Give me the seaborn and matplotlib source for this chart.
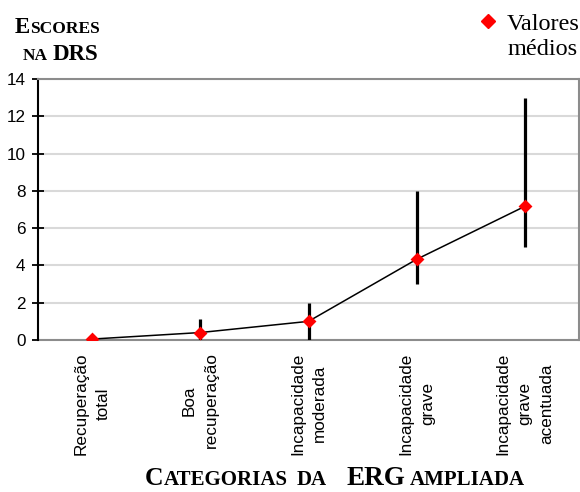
import matplotlib
matplotlib.use("Agg")
import matplotlib.pyplot as plt
import seaborn as sns
import numpy as np
import pandas as pd
from matplotlib.lines import Line2D

# ---- data ----
categories = ["Recuperação\ntotal", "Boa\nrecuperação", "Incapacidade\nmoderada",
              "Incapacidade\ngrave", "Incapacidade\ngrave\nacentuada"]
means = [0.05, 0.4, 1.0, 4.33, 7.17]
lows = [0.0, 0.0, 0.0, 3.0, 5.0]
highs = [0.0, 1.1, 2.0, 8.0, 13.0]
yticks = [0, 2, 4, 6, 8, 10, 12, 14]
legend_lines = ["Valores", "médios"]

sns.set_theme(style="white")
plt.rcParams["font.family"] = ["Liberation Sans", "DejaVu Sans"]

W, H = 580, 492
fig = plt.figure(figsize=(W / 100, H / 100), dpi=100)
ax = fig.add_axes([38 / W, 1 - 340 / H, (579 - 38) / W, (340 - 79) / H])

df = pd.DataFrame({"pos": np.arange(len(categories)), "mean": means,
                   "lo": lows, "hi": highs})

ax.vlines(df["pos"], df["lo"], df["hi"], color="black", lw=2.3, zorder=3)
sns.lineplot(data=df, x="pos", y="mean", color="black", lw=1.1, ax=ax, zorder=4)
sns.scatterplot(data=df, x="pos", y="mean", marker="D", color="#ff0000", s=50,
                edgecolor="#ff0000", linewidth=0, ax=ax, zorder=5)

ax.set_xlim(-0.5, len(categories) - 0.5)
ax.set_ylim(0, 14)
ax.set_yticks(yticks)
ax.set_xticks(df["pos"])
ax.set_xticklabels(categories, rotation=90, ha="center", va="top",
                   multialignment="center", fontsize=12.3, color="black")
for lab in ax.get_xticklabels():
    lab.set_linespacing(1.6)
ax.set_yticklabels([str(v) for v in yticks], fontsize=12.3, color="black")
ax.set_xlabel("")
ax.set_ylabel("")

ax.yaxis.grid(True, color="#d9d9d9", lw=1.5)
ax.xaxis.grid(False)
ax.set_axisbelow(True)
ax.tick_params(axis="y", direction="inout", length=8, width=1.3, color="black",
               pad=5, left=True)
ax.tick_params(axis="x", length=0, pad=9)
for s in ["top", "right", "bottom"]:
    ax.spines[s].set_color("#8c8c8c")
    ax.spines[s].set_linewidth(1.5)
ax.spines["left"].set_color("black")
ax.spines["left"].set_linewidth(1.5)
ax.spines["bottom"].set_zorder(2)

# ---- small-caps style texts ----
fig.canvas.draw()
renderer = fig.canvas.get_renderer()
serif = ["Liberation Serif", "DejaVu Serif"]


def runs(x_px, base_px, pieces):
    x = x_px
    for txt, size, gap in pieces:
        x += gap
        t = fig.text(x / W, 1 - base_px / H, txt, fontsize=size, fontweight="bold",
                     family=serif, va="baseline", ha="left", color="black")
        bb = t.get_window_extent(renderer)
        x += bb.width


BIG, SMALL = 16.5, 12.5
runs(15, 33, [("E", BIG, 0), ("SCORES", SMALL, 0)])
runs(23, 60, [("NA", SMALL, 0), ("DRS", BIG, 5)])

BIG2, SMALL2 = 18.5, 15
runs(145, 485, [("C", BIG2, 0), ("ATEGORIAS", SMALL2, 0), ("DA", SMALL2, 9),
                ("ERG", 19.5, 20), ("AMPLIADA", SMALL2, 4)])

# ---- legend ----
fig.add_artist(Line2D([488 / W], [1 - 21 / H], marker="D", color="#ff0000",
                      markersize=7.5, linestyle="none", transform=fig.transFigure))
fig.text(543 / W, 1 - 30 / H, legend_lines[0], family=serif, fontsize=17.5,
         ha="center", va="baseline", color="black")
fig.text(543 / W, 1 - 55 / H, legend_lines[1], family=serif, fontsize=17.5,
         ha="center", va="baseline", color="black")

fig.savefig("out.png", dpi=100)
